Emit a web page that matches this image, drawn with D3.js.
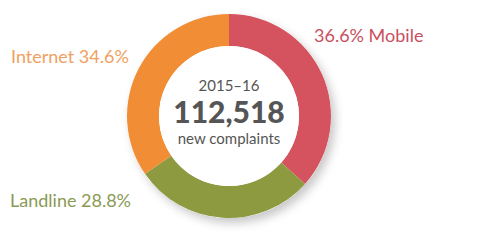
<!DOCTYPE html>
<html>
<head>
<meta charset="utf-8">
<script src="https://cdn.jsdelivr.net/npm/d3@7"></script>
<style>
body { margin: 0; background: #fff; }
svg { display: block; }
</style>
</head>
<body>
<div id="chart"></div>
<script>
var categories = ["Mobile", "Landline", "Internet"]
var shares = [36.6, 28.8, 34.6]
var colors = ["#d5525f", "#8d9a40", "#f18d34"]
var labelColors = ["#c9505e", "#8a9a55", "#f0a062"]
var centreLines = ["2015–16", "112,518", "new complaints"]

var width = 500, height = 247
var cx = 229, cy = 116
var outerR = 102, innerR = 70

var svg = d3.select('#chart').append('svg')
    .attr('width', width)
    .attr('height', height)

var defs = svg.append('defs')
var filter = defs.append('filter').attr('id', 'shadow')
    .attr('x', '-30%').attr('y', '-30%').attr('width', '160%').attr('height', '160%')
filter.append('feDropShadow')
    .attr('dx', 4).attr('dy', 5)
    .attr('stdDeviation', 5)
    .attr('flood-color', '#000')
    .attr('flood-opacity', 0.22)

var data = categories.map(function(c, i){ return { name: c, value: shares[i], i: i } })

var pie = d3.pie().sort(null).value(function(d){ return d.value })
var arc = d3.arc().innerRadius(innerR).outerRadius(outerR)

var g = svg.append('g').attr('transform', 'translate(' + cx + ',' + cy + ')')

g.append('circle')
    .attr('r', outerR)
    .attr('fill', '#fff')
    .attr('filter', 'url(#shadow)')

g.selectAll('.slice')
    .data(pie(data))
    .enter().append('path')
    .attr('class', 'slice')
    .attr('d', arc)
    .attr('fill', function(d){ return colors[d.data.i] })

g.append('circle')
    .attr('r', innerR)
    .attr('fill', '#fff')

// outside labels
var labels = [
    { text: shares[0] + '% ' + categories[0], x: 314, y: 42, i: 0 },
    { text: categories[1] + ' ' + shares[1] + '%', x: 10, y: 207, i: 1 },
    { text: categories[2] + ' ' + shares[2] + '%', x: 11, y: 63, i: 2 }
]
svg.selectAll('.lbl')
    .data(labels)
    .enter().append('text')
    .attr('class', 'lbl')
    .attr('x', function(d){ return d.x })
    .attr('y', function(d){ return d.y })
    .attr('font-family', 'Lato, sans-serif')
    .attr('font-size', 18)
    .attr('fill', function(d){ return labelColors[d.i] })
    .text(function(d){ return d.text })

// centre text
g.append('text')
    .attr('text-anchor', 'middle')
    .attr('y', -25)
    .attr('font-family', 'Lato, sans-serif')
    .attr('font-size', 15)
    .attr('fill', '#555')
    .text(centreLines[0])

g.append('text')
    .attr('text-anchor', 'middle')
    .attr('y', 7)
    .attr('font-family', 'Lato, sans-serif')
    .attr('font-weight', 900)
    .attr('font-size', 30)
    .attr('fill', '#555')
    .text(centreLines[1])

g.append('text')
    .attr('text-anchor', 'middle')
    .attr('y', 28)
    .attr('font-family', 'Lato, sans-serif')
    .attr('font-size', 15)
    .attr('fill', '#555')
    .text(centreLines[2])
</script>
</body>
</html>
